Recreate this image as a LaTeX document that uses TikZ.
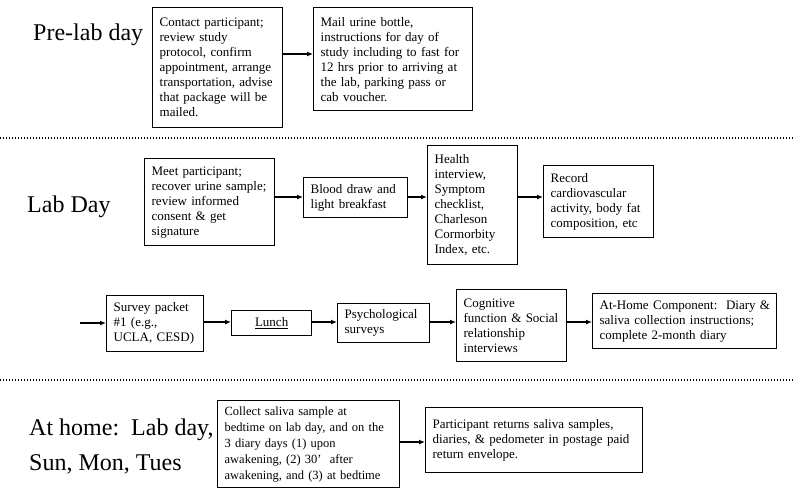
\documentclass[tikz,border=0pt]{standalone}
\usepackage{fontspec}
\setmainfont{Liberation Serif}
\usepackage{tikz}
\usetikzlibrary{arrows.meta}

\tikzset{
	stepbox/.style={draw, line width=1.3pt, anchor=north west, align=left,
		inner xsep=7pt, inner ysep=3pt, font=\fontsize{13}{15}\selectfont},
	daylabel/.style={anchor=base west, inner sep=0pt, align=left,
		font=\fontsize{24}{35}\selectfont},
	flow/.style={line width=1.3pt, -{Latex[length=6pt,width=5pt]}},
	divider/.style={line width=1.8pt, dash pattern=on 1.4pt off 1.6pt},
}

\begin{document}
\begin{tikzpicture}[x=1pt, y=-1pt]
	\useasboundingbox (0,0) rectangle (800,496);

	% pre-lab day
	\node[daylabel] (prelab) at (33,40) {Pre-lab day};
	\node[stepbox, text width=116pt, minimum height=120pt] (contact) at (152,7)
		{Contact participant;\\review study\\protocol, confirm\\appointment, arrange\\transportation, advise\\that package will be\\mailed.};
	\node[stepbox, text width=145pt, minimum height=103pt] (mail) at (313,7)
		{Mail urine bottle,\\instructions for day of\\study including to fast for\\12 hrs prior to arriving at\\the lab, parking pass or\\cab voucher.};
	\draw[flow] (contact.east |- 0,54) -- (mail.west |- 0,54);

	\coordinate (d1a) at (0,138);
	\coordinate (d1b) at (793,138);
	\draw[divider] (d1a) -- (d1b);

	% lab day
	\node[daylabel] (labday) at (27,212) {Lab Day};
	\node[stepbox, text width=116pt, minimum height=87pt] (meet) at (144,158)
		{Meet participant;\\recover urine sample;\\review informed\\consent \& get\\signature};
	\node[stepbox, text width=90pt, minimum height=40pt] (blood) at (303,177)
		{Blood draw and\\light breakfast};
	\node[stepbox, text width=76pt, minimum height=119pt] (health) at (427,145)
		{Health\\interview,\\Symptom\\checklist,\\Charleson\\Cormorbity\\Index, etc.};
	\node[stepbox, text width=96pt, minimum height=72pt] (cardio) at (543,165)
		{Record\\cardiovascular\\activity, body fat\\composition, etc};
	\draw[flow] (meet.east |- 0,197) -- (blood.west |- 0,197);
	\draw[flow] (blood.east |- 0,197) -- (health.west |- 0,197);
	\draw[flow] (health.east |- 0,197) -- (cardio.west |- 0,197);

	\coordinate (cont) at (80,323);
	\node[stepbox, text width=83pt, minimum height=56pt] (survey) at (106,295)
		{Survey packet\\\#1 (e.g.,\\UCLA, CESD)};
	\node[stepbox, text width=66pt, minimum height=25pt, align=center] (lunch) at (231,310)
		{\underline{Lunch}};
	\node[stepbox, text width=78pt, minimum height=39pt] (psych) at (337,303)
		{Psychological\\surveys};
	\node[stepbox, text width=96pt, minimum height=72pt] (cognit) at (456,289)
		{Cognitive\\function \& Social\\relationship\\interviews};
	\node[stepbox, text width=176pt, inner xsep=4pt, minimum height=55pt] (athome) at (592,293)
		{\hspace{3pt}At-Home Component:\ \ Diary \&\\\hspace{3pt}saliva collection instructions;\\\hspace{3pt}complete 2-month diary};
	\draw[flow] (cont) -- (survey.west |- cont);
	\draw[flow] (survey.east |- 0,322) -- (lunch.west |- 0,322);
	\draw[flow] (lunch.east |- 0,322) -- (psych.west |- 0,322);
	\draw[flow] (psych.east |- 0,322) -- (cognit.west |- 0,322);
	\draw[flow] (cognit.east |- 0,322) -- (athome.west |- 0,322);

	\coordinate (d2a) at (0,380);
	\coordinate (d2b) at (793,380);
	\draw[divider] (d2a) -- (d2b);

	% at home
	\node[daylabel] (homeday) at (29,470) {At home:\ \ Lab day,\\Sun, Mon, Tues};
	\node[stepbox, text width=168pt, minimum height=87pt, font=\fontsize{12.5}{16}\selectfont] (saliva) at (217,400)
		{Collect saliva sample at\\bedtime on lab day, and on the\\3 diary days (1) upon\\awakening, (2) 30’\ \ after\\awakening, and (3) at bedtime};
	\node[stepbox, text width=203pt, minimum height=65pt] (returns) at (425,407)
		{Participant returns saliva samples,\\diaries, \& pedometer in postage paid\\return envelope.};
	\draw[flow] (saliva.east |- 0,442) -- (returns.west |- 0,442);
\end{tikzpicture}
\end{document}
